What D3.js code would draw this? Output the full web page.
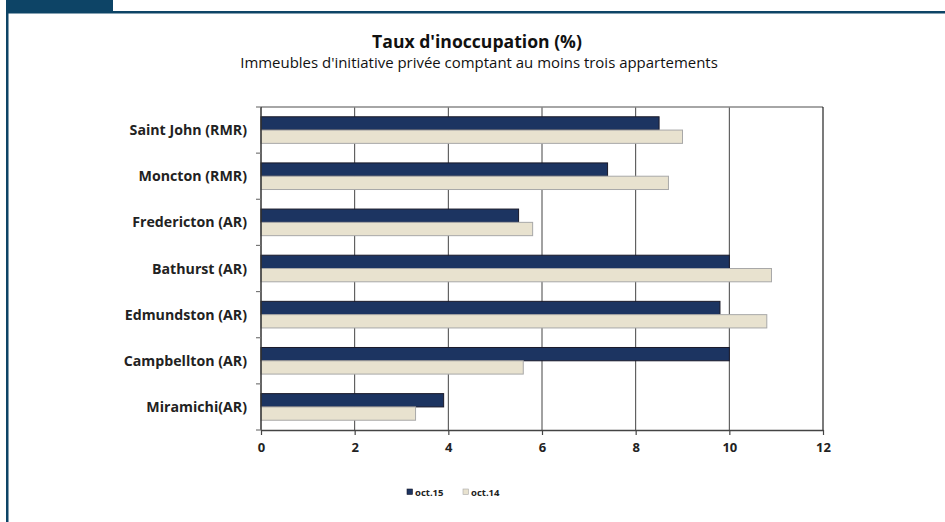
<!DOCTYPE html>
<html><head><meta charset="utf-8">
<script src="https://cdn.jsdelivr.net/npm/d3@7"></script>
<style>body{margin:0;background:#fff;}svg{display:block;}</style>
</head><body>
<script>
const categories = ["Saint John (RMR)","Moncton (RMR)","Fredericton (AR)","Bathurst (AR)","Edmundston (AR)","Campbellton (AR)","Miramichi(AR)"];
const oct15 = [8.5, 7.4, 5.5, 10.0, 9.8, 10.0, 3.9];
const oct14 = [9.0, 8.7, 5.8, 10.9, 10.8, 5.6, 3.3];
const seriesNames = ["oct.15","oct.14"];
const xTicks = [0,2,4,6,8,10,12];
const title = "Taux d'inoccupation (%)";
const subtitle = "Immeubles d'initiative privée comptant au moins trois appartements";

const W=945,H=522;
const svg=d3.select("body").append("svg").attr("width",W).attr("height",H);
const font="'Open Sans', 'DejaVu Sans', sans-serif";

function fit(sel,w){const n=sel.node();const l=n.getComputedTextLength();const fs=parseFloat(sel.attr("font-size"));sel.attr("font-size",fs*w/l);}

// frame
svg.append("rect").attr("x",6).attr("y",0).attr("width",2.5).attr("height",H).attr("fill","#0d4466");
svg.append("rect").attr("x",6).attr("y",11).attr("width",W-6).attr("height",2.5).attr("fill","#0d4466");
svg.append("rect").attr("x",6).attr("y",0).attr("width",107).attr("height",12).attr("fill","#0d4466");

const m={l:261,r:823,t:107,b:430};
const x=d3.scaleLinear().domain([0,12]).range([m.l,m.r]);
const y=d3.scaleBand().domain(categories).range([m.t,m.b]);
const inner=d3.scaleBand().domain(seriesNames).range([y.bandwidth()/2-13.3, y.bandwidth()/2+13.3]);

// gridlines
svg.append("g").selectAll("line").data(xTicks.filter(d=>d>0&&d<12)).join("line")
  .attr("x1",d=>x(d)).attr("x2",d=>x(d)).attr("y1",m.t).attr("y2",m.b)
  .attr("stroke","#444").attr("stroke-width",1);
svg.append("line").attr("x1",m.l).attr("x2",m.r).attr("y1",m.t).attr("y2",m.t).attr("stroke","#888").attr("stroke-width",1.5);
svg.append("line").attr("x1",m.r).attr("x2",m.r).attr("y1",m.t).attr("y2",m.b).attr("stroke","#222").attr("stroke-width",1.2);

const colors={"oct.15":"#1c3461","oct.14":"#e8e2cf"};
const strokes={"oct.15":"#1a1a2a","oct.14":"#a8a8a8"};
const data=categories.map((c,i)=>({c,vals:[{s:"oct.15",v:oct15[i]},{s:"oct.14",v:oct14[i]}]}));
const g=svg.append("g");
g.selectAll("g").data(data).join("g").attr("transform",d=>`translate(0,${y(d.c)})`)
 .selectAll("rect").data(d=>d.vals).join("rect")
 .attr("x",x(0)).attr("y",d=>inner(d.s)).attr("height",inner.bandwidth())
 .attr("width",d=>x(d.v)-x(0)).attr("fill",d=>colors[d.s]).attr("stroke",d=>strokes[d.s]).attr("stroke-width",1);

// left axis
const ya=svg.append("g").attr("transform",`translate(${m.l},0)`);
ya.append("line").attr("x1",0).attr("x2",0).attr("y1",m.t).attr("y2",m.b).attr("stroke","#333").attr("stroke-width",1.5);
const yt=d3.range(categories.length+1).map(i=>m.t+i*y.step());
ya.selectAll("line.t").data(yt).join("line").attr("class","t").attr("x1",-5).attr("x2",0).attr("y1",d=>d).attr("y2",d=>d).attr("stroke","#777").attr("stroke-width",1.2);
ya.selectAll("text").data(categories).join("text").attr("x",-14).attr("y",d=>y(d)+y.bandwidth()/2).attr("dy","0.36em")
  .attr("text-anchor","end").attr("font-family",font).attr("font-weight","bold").attr("font-size",14.2).attr("fill","#222").text(d=>d);

// bottom axis
const xa=svg.append("g").attr("transform",`translate(0,${m.b})`)
 .call(d3.axisBottom(x).tickValues(xTicks).tickSize(5).tickSizeOuter(0).tickPadding(8).tickFormat(d3.format("d")));
xa.select(".domain").attr("stroke","#444").attr("stroke-width",1.5);
xa.selectAll(".tick line").attr("stroke","#444").attr("stroke-width",1.2);
xa.selectAll("text").attr("font-family",font).attr("font-weight","bold").attr("font-size",13).attr("fill","#222");

// titles
const t1=svg.append("text").attr("x",477).attr("y",47.5).attr("text-anchor","middle").attr("font-family",font).attr("font-weight","bold").attr("font-size",16).attr("fill","#111").text(title);
fit(t1,210);
const t2=svg.append("text").attr("x",479).attr("y",67.5).attr("text-anchor","middle").attr("font-family",font).attr("font-size",13).attr("fill","#111").text(subtitle);
fit(t2,478);

// legend
const lg=svg.append("g").attr("font-family",font).attr("font-weight","bold").attr("font-size",9.5).attr("fill","#222");
const lx=[407,463];
seriesNames.forEach((s,i)=>{
  lg.append("rect").attr("x",lx[i]).attr("y",489).attr("width",5.5).attr("height",5.5).attr("fill",colors[s]).attr("stroke",strokes[s]).attr("stroke-width",0.6);
  lg.append("text").attr("x",lx[i]+8).attr("y",495.5).text(s);
});
</script>
</body></html>
